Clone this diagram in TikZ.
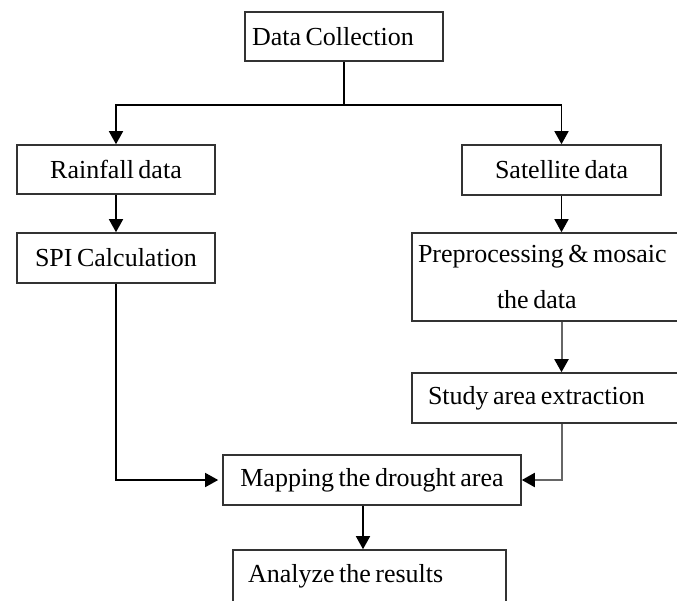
\documentclass[tikz,border=0pt]{standalone}
\usepackage{fontspec}
\setmainfont{Liberation Serif}
\usetikzlibrary{arrows.meta}

\newcommand\stagefont{\fontsize{26}{31}\selectfont\spaceskip=4.5pt plus 1pt\relax}

\tikzset{
  stage/.style={draw=black!80, line width=1.6pt, inner ysep=0pt, inner xsep=0pt,
    minimum height=50pt, font=\stagefont, execute at begin node=\stagefont},
  leftstage/.style 2 args={stage, text width=#1pt, align=left, inner xsep=#2pt},
  flow/.style={line width=1.5pt, -{Triangle[width=14pt,length=13pt]}},
  greyflow/.style={line width=2pt, draw=black!60, -{Triangle[width=14pt,length=13pt,color=black]}}
}

\begin{document}
\begin{tikzpicture}[x=1pt, y=-1pt]
    \useasboundingbox (0,0) rectangle (677,600);
    \clip (0,0) rectangle (677,600);

    % boxes
    \node[leftstage={184}{7}, minimum height=49pt] (collect) at (344,36.5) {Data Collection};
    \node[stage, minimum width=198pt, minimum height=49pt] (rain) at (116,169.5) {Rainfall data};
    \node[stage, minimum width=198pt] (spi) at (116,258) {SPI Calculation};
    \node[stage, minimum width=199pt] (sat) at (561.5,170) {Satellite data};
    \node[leftstage={266}{6}, minimum height=88pt] (prep) at (551,277)
        {Preprocessing \& mosaic\\[15pt]\hspace*{79pt}the data};
    \node[leftstage={246}{16}] (study) at (551,398) {Study area extraction};
    \node[stage, minimum width=298pt] (map) at (372,480) {Mapping the drought area};
    \node[leftstage={243}{15}, minimum height=52pt] (result) at (369.5,576) {Analyze the results};

    % connectors
    \coordinate (fork) at (344,105);
    \draw[line width=1.5pt] (collect) -- (fork);
    \draw[flow] (fork) -| (rain);
    \draw[flow] (fork) -| (sat);
    \draw[flow] (rain) -- (spi);
    \draw[flow, shorten >=4pt] (spi) |- (map);
    \draw[flow] (sat.south) -- (sat.south |- prep.north);
    \draw[greyflow] (prep.south -| sat.south) -- (study.north -| sat.south);
    \draw[greyflow] (study.south -| sat.south) |- (map.east);
    \draw[flow] (map.south -| 363,0) -- (result.north -| 363,0);
\end{tikzpicture}
\end{document}
